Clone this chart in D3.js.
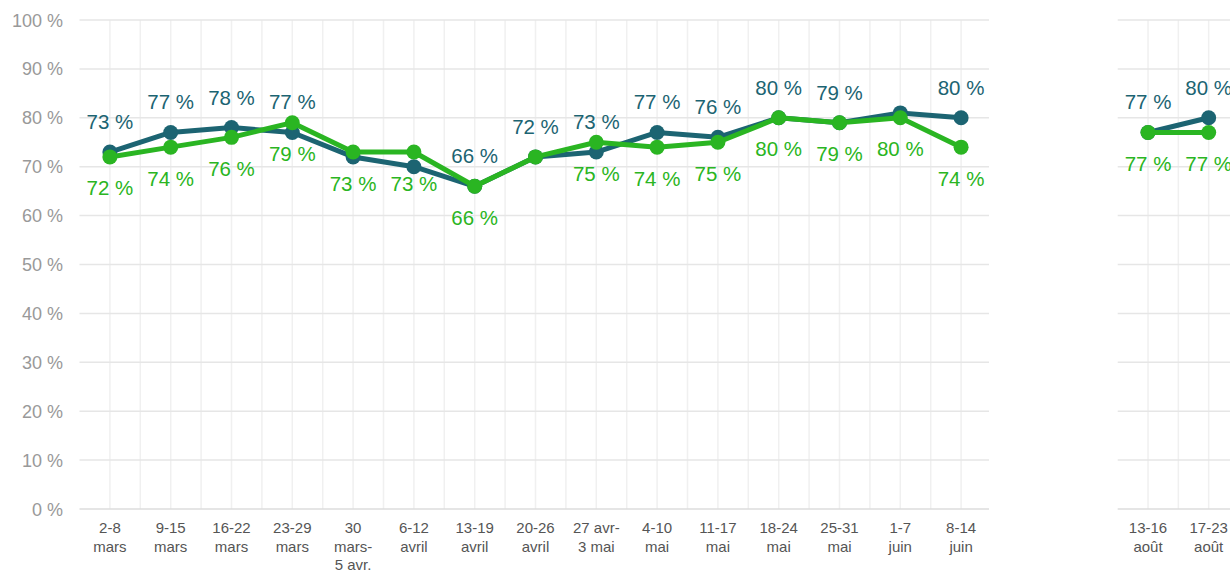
<html>
<head>
<script src="https://d3js.org/d3.v7.min.js"></script>
<style>
  body { margin: 0; background: #fff; }
  text { font-family: "Liberation Sans", Arial, sans-serif; }
</style>
</head>
<body>
<svg width="1230" height="571"></svg>
<script>
// categories (first period, then august)
const weeksA = [["2-8","mars"],["9-15","mars"],["16-22","mars"],["23-29","mars"],["30","mars-","5 avr."],
  ["6-12","avril"],["13-19","avril"],["20-26","avril"],["27 avr-","3 mai"],["4-10","mai"],
  ["11-17","mai"],["18-24","mai"],["25-31","mai"],["1-7","juin"],["8-14","juin"]];
const weeksB = [["13-16","août"],["17-23","août"]];

// series values (%)
const darkA  = [73, 77, 78, 77, 72, 70, 66, 72, 73, 77, 76, 80, 79, 81, 80];
const greenA = [72, 74, 76, 79, 73, 73, 66, 72, 75, 74, 75, 80, 79, 80, 74];
const darkB  = [77, 80];
const greenB = [77, 77];

// which points carry a data label
const darkLabelA  = [1,1,1,1,0,0,1,1,1,1,1,1,1,0,1];
const greenLabelA = [1,1,1,1,1,1,1,0,1,1,1,1,1,1,1];
const darkLabelB  = [1,1];
const greenLabelB = [1,1];

const yTicks = [0,10,20,30,40,50,60,70,80,90,100];

const DARK = "#1c6472", GREEN = "#2ab522";

const svg = d3.select("svg");
const y = d3.scaleLinear().domain([0,100]).range([509,20]);

// y axis labels
svg.append("g").selectAll("text").data(yTicks).join("text")
  .attr("x", 63).attr("y", d => y(d) + 6.5)
  .attr("text-anchor", "end")
  .attr("font-size", 18).attr("fill", "#999")
  .text(d => d + " %");

function panel(cats, dark, green, dLab, gLab, x0, x1, gridEnd) {
  const x = d3.scaleBand().domain(d3.range(cats.length)).range([x0, x1]);
  const cx = i => x(i) + x.bandwidth()/2;
  const g = svg.append("g");

  // vertical grid: band boundaries (interior) and centers
  const vx = [];
  cats.forEach((c,i) => { if (i > 0) vx.push(x(i)); vx.push(cx(i)); });
  g.selectAll("line.v").data(vx).join("line")
    .attr("class","v")
    .attr("x1", d => d).attr("x2", d => d)
    .attr("y1", y(100)).attr("y2", y(0))
    .attr("stroke", "#f0f0f0").attr("stroke-width", 1.5);

  g.selectAll("line.h").data(yTicks).join("line")
    .attr("class","h")
    .attr("x1", x0).attr("x2", gridEnd)
    .attr("y1", d => y(d)).attr("y2", d => y(d))
    .attr("stroke", d => d === 0 ? "#dcdcdc" : "#e6e6e6").attr("stroke-width", 1.5);

  // x labels
  const lab = g.selectAll("text.xl").data(cats).join("text")
    .attr("class","xl")
    .attr("text-anchor","middle")
    .attr("font-size", 15).attr("fill", "#555");
  lab.selectAll("tspan").data((d,i) => d.map(s => ({s, i}))).join("tspan")
    .attr("x", d => cx(d.i))
    .attr("y", (d,k) => 533 + k*18.7)
    .text(d => d.s);

  const line = d3.line().x((d,i) => cx(i)).y(d => y(d));
  [[dark, DARK], [green, GREEN]].forEach(([vals, col]) => {
    g.append("path").datum(vals)
      .attr("d", line).attr("fill","none")
      .attr("stroke", col).attr("stroke-width", 5)
      .attr("stroke-linejoin","round");
    g.selectAll(null).data(vals).join("circle")
      .attr("cx", (d,i) => cx(i)).attr("cy", d => y(d))
      .attr("r", 7.5).attr("fill", col);
  });

  const pts = (vals, show) => vals.map((v,i) => ({v, i})).filter(p => show[p.i]);
  g.selectAll(null).data(pts(dark, dLab)).join("text")
    .attr("x", p => cx(p.i))
    .attr("y", p => y(p.v) - 23)
    .attr("text-anchor","middle").attr("font-size", 20.5).attr("fill", DARK)
    .text(p => p.v + " %");
  g.selectAll(null).data(pts(green, gLab)).join("text")
    .attr("x", p => cx(p.i))
    .attr("y", p => y(p.v) + 38.5)
    .attr("text-anchor","middle").attr("font-size", 20.5).attr("fill", GREEN)
    .text(p => p.v + " %");
}

panel(weeksA, darkA, greenA, darkLabelA, greenLabelA, 79.5, 991.5, 989);
panel(weeksB, darkB, greenB, darkLabelB, greenLabelB, 1117.7, 1239, 1230);
</script>
</body>
</html>
